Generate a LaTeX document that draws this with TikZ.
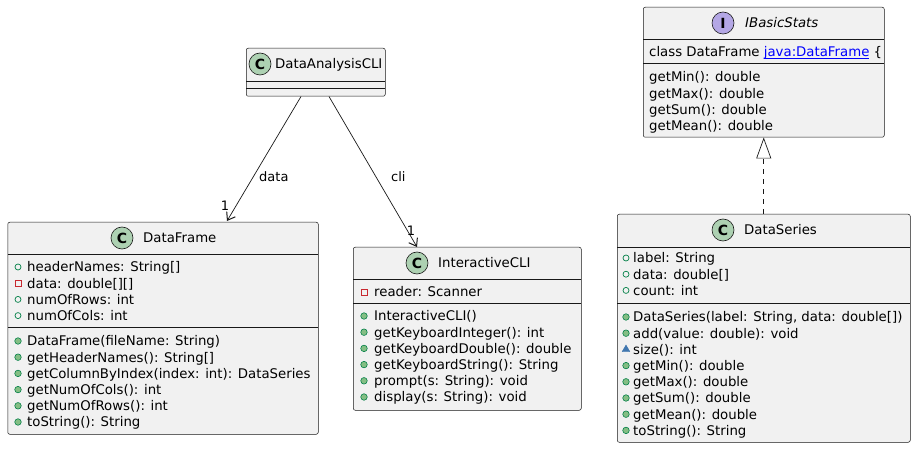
\documentclass[tikz,border=0pt]{standalone}
\usepackage{fontspec}
\setmainfont{DejaVu Sans}
\usetikzlibrary{arrows.meta,calc,shapes.geometric}
\definecolor{boxfill}{HTML}{F1F1F1}
\definecolor{boxline}{HTML}{181818}
\definecolor{cfill}{HTML}{ADD1B2}
\definecolor{ifill}{HTML}{B4A7E5}
\definecolor{visgreen}{HTML}{038048}
\definecolor{visgreenfill}{HTML}{84BE84}
\definecolor{visred}{HTML}{C82930}
\definecolor{visblue}{HTML}{4177AF}
\definecolor{linkblue}{HTML}{0000FF}
\tikzset{
  classbox/.style={draw=boxline, fill=boxfill, line width=0.5pt, rounded corners=2pt, anchor=north west, inner sep=0pt},
  divider/.style={draw=boxline, line width=0.5pt},
  memtext/.style={font=\fontsize{13.3}{16}\selectfont, anchor=west, inner sep=0pt, text height=9.7pt, text depth=0pt},
  titletext/.style={font=\fontsize{13.3}{16}\selectfont, anchor=west, inner sep=0pt, text height=9.7pt, text depth=0pt},
  badge/.style={circle, draw=boxline, line width=0.6pt, minimum size=22pt, inner sep=0pt, font=\fontsize{14}{16}\selectfont\bfseries},
  pubf/.style={circle, draw=visgreen, line width=0.7pt, minimum size=6pt, inner sep=0pt},
  pubm/.style={circle, draw=visgreen, fill=visgreenfill, line width=0.6pt, minimum size=6.5pt, inner sep=0pt},
  privf/.style={rectangle, draw=visred, line width=0.7pt, minimum size=6pt, inner sep=0pt},
  pkgm/.style={regular polygon, regular polygon sides=3, fill=visblue, draw=visblue, line width=0.3pt, minimum size=9pt, inner sep=0pt},
  assoc/.style={draw=boxline, line width=0.7pt, -{Straight Barb[length=7pt,width=10pt,line width=1pt]}},
  realize/.style={draw=boxline, line width=0.7pt, dash pattern=on 5pt off 5pt, -{Triangle[open,length=21pt,width=15pt,line width=0.7pt]}},
  lbl/.style={font=\fontsize{13}{16}\selectfont, inner sep=0pt, text height=9.5pt, text depth=0pt}
}
\newcommand\mem[6]{%
  \node[memtext] (#1) at (#4,#5) {#6};
  \node[#2] (#1i) at (#3,#5) {};
}
\begin{document}
\begin{tikzpicture}[x=1pt,y=-1pt]
\useasboundingbox (0,0) rectangle (916,449);

% DataAnalysisCLI
\node[classbox, minimum width=139pt, minimum height=48pt] (dac) at (246,48) {};
\draw[divider] (246,81) -- (385,81);
\draw[divider] (246,88) -- (385,88);
\node[badge, fill=cfill] (dacb) at (260,64) {C};
\node[titletext] (dact) at (275,64) {DataAnalysisCLI};

% DataFrame
\node[classbox, minimum width=310.5pt, minimum height=212pt] (df) at (7.5,222) {};
\draw[divider] (7.5,254) -- (318,254);
\draw[divider] (7.5,327) -- (318,327);
\node[badge, fill=cfill] (dfb) at (122,238) {C};
\node[titletext] (dft) at (143,238) {DataFrame};
\mem{df1}{pubf}{18}{27}{267}{headerNames: String[]}
\mem{df2}{privf}{18}{27}{283.2}{data: double[][]}
\mem{df3}{pubf}{18}{27}{299.4}{numOfRows: int}
\mem{df4}{pubf}{18}{27}{315.6}{numOfCols: int}
\mem{df5}{pubm}{18}{27}{341}{DataFrame(fileName: String)}
\mem{df6}{pubm}{18}{27}{357.2}{getHeaderNames(): String[]}
\mem{df7}{pubm}{18}{27}{373.4}{getColumnByIndex(index: int): DataSeries}
\mem{df8}{pubm}{18}{27}{389.6}{getNumOfCols(): int}
\mem{df9}{pubm}{18}{27}{405.8}{getNumOfRows(): int}
\mem{df10}{pubm}{18}{27}{422}{toString(): String}

% InteractiveCLI
\node[classbox, minimum width=228pt, minimum height=163pt] (icli) at (353,247) {};
\draw[divider] (353,279) -- (581,279);
\draw[divider] (353,303) -- (581,303);
\node[badge, fill=cfill] (iclib) at (417,263) {C};
\node[titletext] (iclit) at (438,263) {InteractiveCLI};
\mem{ic1}{privf}{364}{374}{292}{reader: Scanner}
\mem{ic2}{pubm}{364}{374}{316}{InteractiveCLI()}
\mem{ic3}{pubm}{364}{374}{332.2}{getKeyboardInteger(): int}
\mem{ic4}{pubm}{364}{374}{348.4}{getKeyboardDouble(): double}
\mem{ic5}{pubm}{364}{374}{364.6}{getKeyboardString(): String}
\mem{ic6}{pubm}{364}{374}{380.8}{prompt(s: String): void}
\mem{ic7}{pubm}{364}{374}{397}{display(s: String): void}

% IBasicStats
\node[classbox, minimum width=241pt, minimum height=130pt] (ibs) at (643,7) {};
\draw[divider] (643,39) -- (884,39);
\draw[divider] (643,63) -- (884,63);
\node[badge, fill=ifill] (ibsb) at (723,23) {I};
\node[titletext, font=\fontsize{13.3}{16}\selectfont\itshape] (ibst) at (745,23) {IBasicStats};
\node[memtext] (ib0) at (649,52) {class DataFrame \textcolor{linkblue}{\underline{\smash{java:DataFrame}}} \{};
\node[memtext] (ib1) at (649,77) {getMin(): double};
\node[memtext] (ib2) at (649,93.2) {getMax(): double};
\node[memtext] (ib3) at (649,109.4) {getSum(): double};
\node[memtext] (ib4) at (649,125.6) {getMean(): double};

% DataSeries
\node[classbox, minimum width=293pt, minimum height=228pt] (ds) at (617,214) {};
\draw[divider] (617,247) -- (910,247);
\draw[divider] (617,303) -- (910,303);
\node[badge, fill=cfill] (dsb) at (723,230) {C};
\node[titletext] (dst) at (744,230) {DataSeries};
\mem{ds1}{pubf}{626}{633}{258}{label: String}
\mem{ds2}{pubf}{626}{633}{274.2}{data: double[]}
\mem{ds3}{pubf}{626}{633}{290.4}{count: int}
\mem{ds4}{pubm}{626}{633}{317}{DataSeries(label: String, data: double[])}
\mem{ds5}{pubm}{626}{633}{333.2}{add(value: double): void}
\mem{ds6}{pkgm}{626}{633}{349.4}{size(): int}
\mem{ds7}{pubm}{626}{633}{365.6}{getMin(): double}
\mem{ds8}{pubm}{626}{633}{381.8}{getMax(): double}
\mem{ds9}{pubm}{626}{633}{398}{getSum(): double}
\mem{ds10}{pubm}{626}{633}{414.2}{getMean(): double}
\mem{ds11}{pubm}{626}{633}{430.4}{toString(): String}

% connectors
\draw[assoc] ($(dac.south west)+(55,0)$) -- ($(df.north west)+(219.5,-1)$);
\draw[assoc] ($(dac.south west)+(83,0)$) -- ($(icli.north west)+(64,0)$);
\draw[realize] (ds.north) -- (ibs.south);
\node[lbl, anchor=west] (ldata) at (259,177) {data};
\node[lbl, anchor=west] (lcli) at (391,177) {cli};
\node[lbl] (m1) at (225,206) {1};
\node[lbl] (m2) at (411,231) {1};
\end{tikzpicture}
\end{document}
